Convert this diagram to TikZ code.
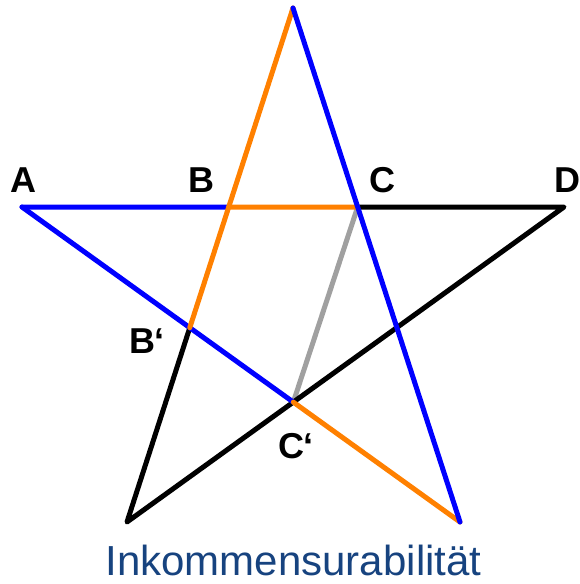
\documentclass[tikz,border=0pt]{standalone}
\usepackage{fontspec}
\setmainfont{Liberation Sans}
\usepackage{tikz}
\usetikzlibrary{arrows.meta}
\definecolor{blue}{HTML}{0000FF}
\definecolor{orange}{HTML}{FF8000}
\definecolor{grey}{HTML}{A0A0A0}
\definecolor{titleblue}{HTML}{17437F}
\tikzset{
  every picture/.style={line join=round, line cap=round},
  edge/.style={line width=5pt},
  pointlabel/.style={anchor=base, inner sep=0pt, font=\fontsize{36}{42}\selectfont\bfseries},
}

\begin{document}
\begin{tikzpicture}[x=1pt,y=-1pt]
\useasboundingbox(0,0) rectangle (580,584);
\coordinate(T) at (293,8);
\coordinate(A) at (22,207);
\coordinate(D) at (564,207);
\coordinate(L) at (127,522);
\coordinate(R) at (460,522);
\coordinate(B) at (intersection of A--D and T--L);
\coordinate(C) at (intersection of A--D and T--R);
\coordinate(B') at (intersection of A--R and T--L);
\coordinate(C') at (intersection of A--R and L--D);
\coordinate(E) at (intersection of T--R and L--D);
\draw[edge,grey](C)--(C');
\draw[edge,black](C)--(D)--(E)--(C')--(L)--(B');
\draw[edge,blue](A)--(B);
\draw[edge,blue](A)--(B')--(C');
\draw[edge,orange](C')--(R);
\draw[edge,orange](T)--(B)--(B');
\draw[edge,orange](B)--(C);
\draw[edge,blue](T)--(C)--(E)--(R);
\node[pointlabel](lA) at (23,192) {A};
\node[pointlabel](lB) at (201,192) {B};
\node[pointlabel](lC) at (382,192) {C};
\node[pointlabel](lD) at (567,192) {D};
\node[pointlabel](lB') at (147,353) {B‘};
\node[pointlabel](lC') at (296,458) {C‘};
\node[anchor=base, inner sep=0pt, text=titleblue, font=\fontsize{42}{48}\selectfont](title) at (293.5,575) {Inkommensurabilität};
\end{tikzpicture}
\end{document}
